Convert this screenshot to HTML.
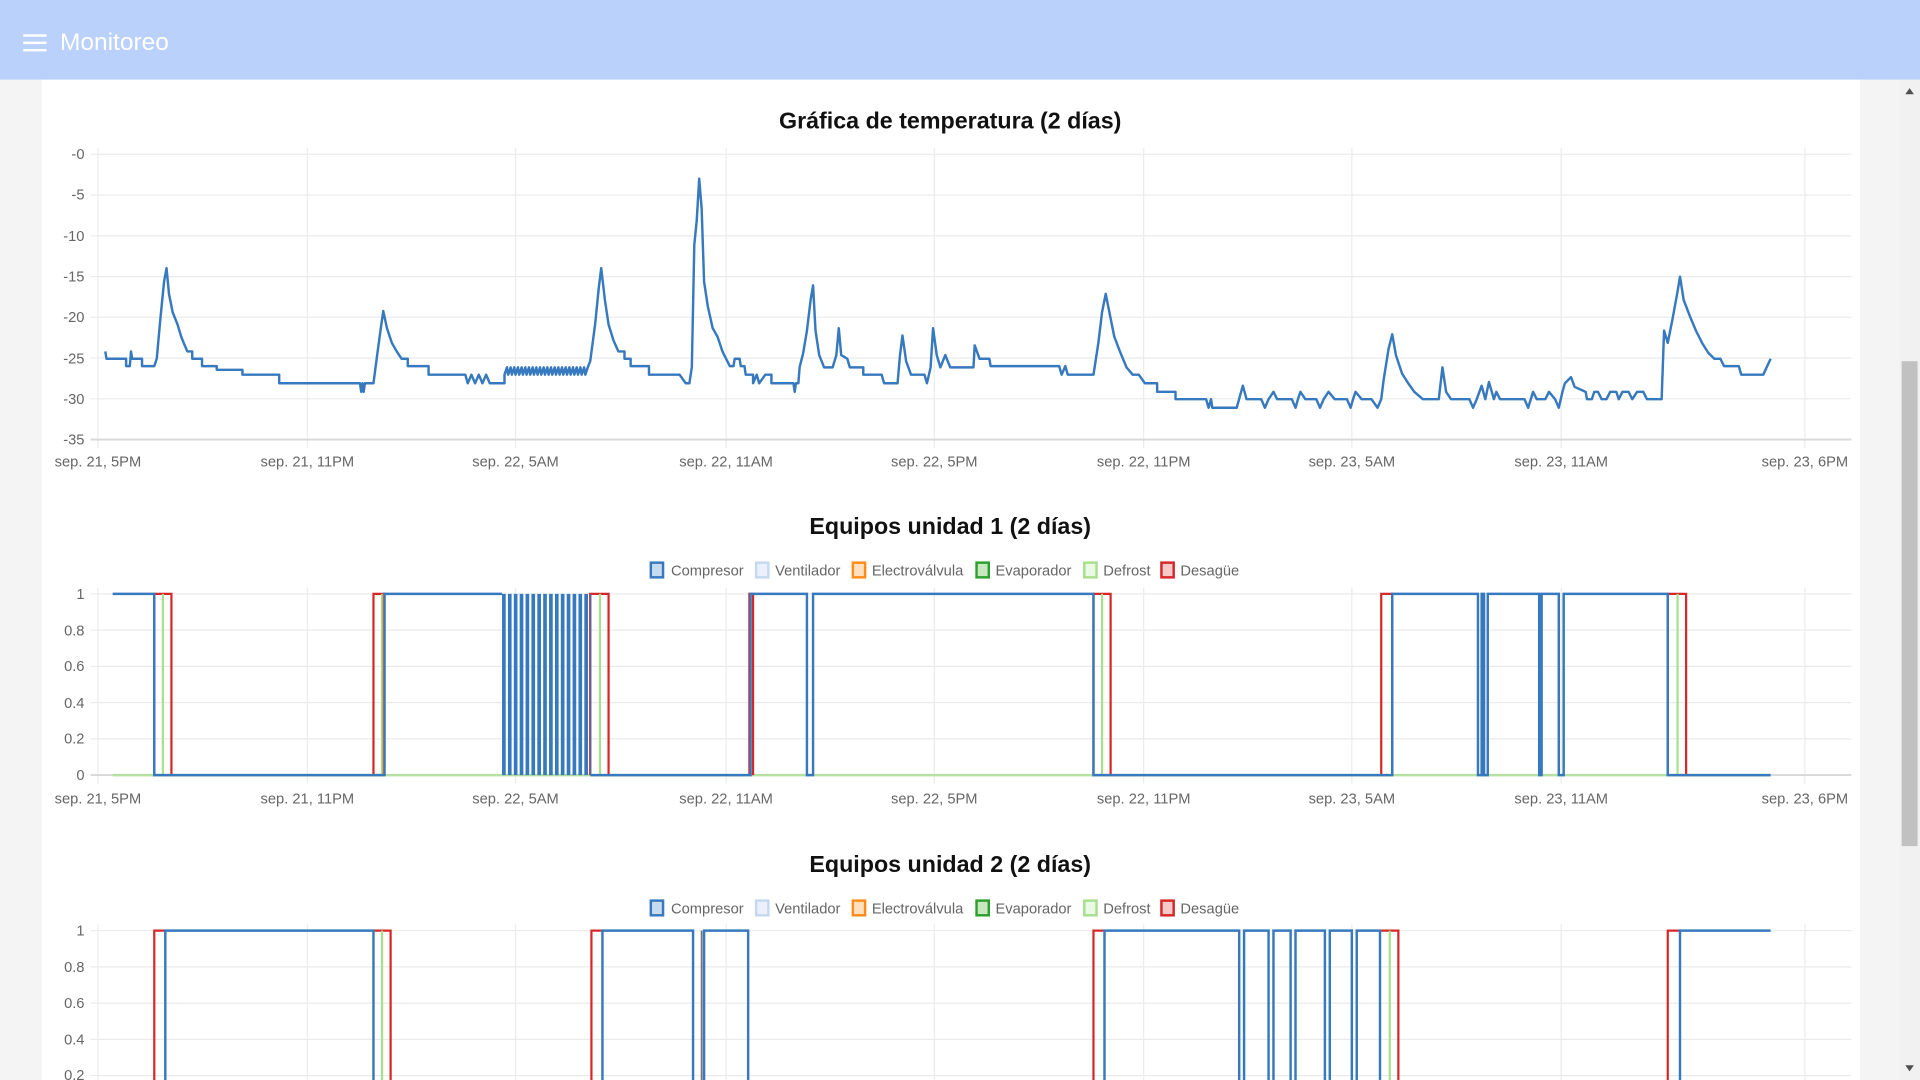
<!DOCTYPE html>
<html><head><meta charset="utf-8"><style>
html,body{margin:0;padding:0;width:1920px;height:1080px;overflow:hidden;background:#f4f4f4}
svg{display:block}
text{font-family:"Liberation Sans",sans-serif}
</style></head><body>
<svg width="1920" height="1080" viewBox="0 0 1568 882" preserveAspectRatio="none">
<rect x="0" y="0" width="1568" height="882" fill="#f4f4f4"/>
<rect x="34" y="65" width="1485" height="817" fill="#fff"/>
<rect x="0" y="0" width="1568" height="65" fill="#bad1fc"/>
<rect x="19" y="28" width="19" height="2" fill="#fff"/>
<rect x="19" y="34" width="19" height="2" fill="#fff"/>
<rect x="19" y="40" width="19" height="2" fill="#fff"/>
<text x="49" y="41" font-size="20" fill="#fff">Monitoreo</text>
<rect x="1551" y="65" width="17" height="817" fill="#f1f1f1"/>
<rect x="1553" y="295" width="13" height="396" fill="#c1c1c1"/>
<path d="M1556,77 L1563,77 L1559.5,72 Z" fill="#505050"/>
<path d="M1556,870 L1563,870 L1559.5,875 Z" fill="#505050"/>

<text x="776" y="105" font-size="19" font-weight="bold" text-anchor="middle" fill="#111">Gráfica de temperatura (2 días)</text>
<g stroke="#ebebeb" stroke-width="1">
<line x1="80" y1="121" x2="80" y2="366"/><line x1="251" y1="121" x2="251" y2="366"/><line x1="421" y1="121" x2="421" y2="366"/><line x1="593" y1="121" x2="593" y2="366"/><line x1="763" y1="121" x2="763" y2="366"/><line x1="934" y1="121" x2="934" y2="366"/><line x1="1104" y1="121" x2="1104" y2="366"/><line x1="1275" y1="121" x2="1275" y2="366"/><line x1="1474" y1="121" x2="1474" y2="366"/>
<line x1="74" y1="126" x2="1512" y2="126"/><line x1="74" y1="159.3" x2="1512" y2="159.3"/><line x1="74" y1="192.6" x2="1512" y2="192.6"/><line x1="74" y1="225.9" x2="1512" y2="225.9"/><line x1="74" y1="259.1" x2="1512" y2="259.1"/><line x1="74" y1="292.4" x2="1512" y2="292.4"/><line x1="74" y1="325.7" x2="1512" y2="325.7"/>
</g>
<line x1="74" y1="359" x2="1512" y2="359" stroke="#d8d8d8" stroke-width="1.5"/>
<g font-size="12" fill="#666" text-anchor="end">
<text x="69" y="130">-0</text><text x="69" y="163">-5</text><text x="69" y="197">-10</text><text x="69" y="230">-15</text><text x="69" y="263">-20</text><text x="69" y="297">-25</text><text x="69" y="330">-30</text><text x="69" y="363">-35</text>
</g>
<g font-size="12" fill="#666" text-anchor="middle">
<text x="80" y="381">sep. 21, 5PM</text><text x="251" y="381">sep. 21, 11PM</text><text x="421" y="381">sep. 22, 5AM</text><text x="593" y="381">sep. 22, 11AM</text><text x="763" y="381">sep. 22, 5PM</text><text x="934" y="381">sep. 22, 11PM</text><text x="1104" y="381">sep. 23, 5AM</text><text x="1275" y="381">sep. 23, 11AM</text><text x="1474" y="381">sep. 23, 6PM</text>
</g>
<polyline fill="none" stroke="#3779be" stroke-width="2" stroke-linejoin="round" points="86,287 87,293 103,293 103,299 106,299 107,287 108,293 116,293 116,299 126,299 128,293 131,260 134,230 136,219 138,240 141,255 145,265 148,275 150,280 153,287 157,287 157,293 163,293 165,293 165,299 175,299 177,299 177,302 198,302 198,306 228,306 228,313 294,313 295,320 296,313 297,320 298,313 305,313 308,290 311,268 313,254 316,268 320,280 324,287 328,293 333,293 333,299 350,299 350,306 380,306 382,313 385,306 388,313 391,306 394,313 397,306 400,313 412,313 412,306 414,300 415,306 417,300 418,306 420,300 421,306 423,300 424,306 426,300 427,306 429,300 430,306 432,300 433,306 435,300 436,306 438,300 439,306 441,300 442,306 444,300 445,306 447,300 448,306 450,300 451,306 453,300 454,306 456,300 457,306 459,300 460,306 462,300 463,306 465,300 466,306 468,300 469,306 471,300 472,306 474,300 475,306 477,300 478,306 480,300 482,295 486,265 489,235 491,219 494,245 497,265 501,278 505,287 510,287 510,293 515,293 515,299 527,299 530,299 530,306 555,306 560,313 563,313 565,300 567,200 569,180 571,146 573,170 575,230 578,250 582,268 586,275 590,287 593,293 596,299 599,299 600,293 604,293 605,299 608,299 609,306 615,306 615,313 618,306 620,313 625,306 630,306 630,313 645,313 648,313 649,320 650,313 652,313 653,300 656,288 659,270 662,245 664,233 666,270 669,290 673,300 680,300 683,290 685,268 687,290 692,293 694,300 705,300 705,306 720,306 722,313 733,313 735,290 737,274 740,295 744,306 750,306 755,306 757,313 760,300 762,268 765,290 768,300 772,290 776,300 795,300 796,282 800,293 808,293 809,299 865,299 867,306 870,299 872,306 893,306 895,293 897,280 900,255 903,240 906,255 910,275 915,288 920,300 925,306 930,306 935,313 945,313 945,320 960,320 960,326 985,326 987,333 989,326 990,333 1010,333 1013,322 1015,315 1018,326 1030,326 1033,333 1036,326 1040,320 1043,326 1055,326 1058,333 1060,326 1062,320 1066,326 1075,326 1078,333 1081,326 1085,320 1090,326 1100,326 1103,333 1105,326 1107,320 1112,326 1120,326 1125,333 1128,326 1130,310 1134,285 1137,273 1140,290 1145,305 1150,313 1155,320 1162,326 1175,326 1178,300 1181,320 1185,326 1200,326 1203,333 1206,326 1210,315 1213,326 1216,312 1220,326 1222,320 1225,326 1245,326 1248,333 1252,320 1255,326 1258,326 1262,326 1265,320 1270,326 1273,333 1276,320 1278,313 1283,308 1286,316 1295,320 1296,326 1300,326 1302,320 1305,320 1308,326 1312,326 1315,320 1320,320 1322,326 1325,320 1330,320 1333,326 1337,320 1342,320 1345,326 1357,326 1359,270 1362,280 1366,260 1370,238 1372,226 1375,245 1380,258 1385,270 1390,280 1395,288 1400,293 1405,293 1408,299 1420,299 1422,306 1440,306 1446,293"/>

<text x="776" y="436" font-size="19" font-weight="bold" text-anchor="middle" fill="#111">Equipos unidad 1 (2 días)</text>
<g font-size="12" fill="#666">
<rect x="531.5" y="459.5" width="10" height="12" fill="#c6dbef" stroke="#3779be" stroke-width="2"/><text x="548" y="470">Compresor</text>
<rect x="617.5" y="459.5" width="10" height="12" fill="#eaf1fb" stroke="#c6d8f0" stroke-width="2"/><text x="633" y="470">Ventilador</text>
<rect x="696.5" y="459.5" width="10" height="12" fill="#fde0c0" stroke="#ff8c1a" stroke-width="2"/><text x="712" y="470">Electroválvula</text>
<rect x="797.5" y="459.5" width="10" height="12" fill="#c9e8c0" stroke="#2ca02c" stroke-width="2"/><text x="813" y="470">Evaporador</text>
<rect x="885.5" y="459.5" width="10" height="12" fill="#eaf8e4" stroke="#a8df8f" stroke-width="2"/><text x="901" y="470">Defrost</text>
<rect x="948.5" y="459.5" width="10" height="12" fill="#f7c9c9" stroke="#d62728" stroke-width="2"/><text x="964" y="470">Desagüe</text>
</g>
<g stroke="#ebebeb" stroke-width="1">
<line x1="80" y1="480" x2="80" y2="640"/><line x1="251" y1="480" x2="251" y2="640"/><line x1="421" y1="480" x2="421" y2="640"/><line x1="593" y1="480" x2="593" y2="640"/><line x1="763" y1="480" x2="763" y2="640"/><line x1="934" y1="480" x2="934" y2="640"/><line x1="1104" y1="480" x2="1104" y2="640"/><line x1="1275" y1="480" x2="1275" y2="640"/><line x1="1474" y1="480" x2="1474" y2="640"/>
<line x1="74" y1="485" x2="1512" y2="485"/><line x1="74" y1="514.6" x2="1512" y2="514.6"/><line x1="74" y1="544.2" x2="1512" y2="544.2"/><line x1="74" y1="573.8" x2="1512" y2="573.8"/><line x1="74" y1="603.4" x2="1512" y2="603.4"/>
</g>
<line x1="74" y1="633" x2="1512" y2="633" stroke="#d8d8d8" stroke-width="1.5"/>
<g font-size="12" fill="#666" text-anchor="end">
<text x="69" y="489">1</text><text x="69" y="519">0.8</text><text x="69" y="548">0.6</text><text x="69" y="578">0.4</text><text x="69" y="607">0.2</text><text x="69" y="637">0</text>
</g>
<g font-size="12" fill="#666" text-anchor="middle">
<text x="80" y="656">sep. 21, 5PM</text><text x="251" y="656">sep. 21, 11PM</text><text x="421" y="656">sep. 22, 5AM</text><text x="593" y="656">sep. 22, 11AM</text><text x="763" y="656">sep. 22, 5PM</text><text x="934" y="656">sep. 22, 11PM</text><text x="1104" y="656">sep. 23, 5AM</text><text x="1275" y="656">sep. 23, 11AM</text><text x="1474" y="656">sep. 23, 6PM</text>
</g>
<line x1="92" y1="633" x2="1446" y2="633" stroke="#b5e2a0" stroke-width="2"/>
<path fill="none" stroke="#d62728" stroke-width="1.8" d="M126,633 V485 H140 V633 M305,633 V485 H314 V633 M482,633 V485 H497 V633 M612,633 V485 H615 V633 M893,633 V485 H907 V633 M1128,633 V485 H1137 V633 M1362,633 V485 H1377 V633"/>
<path fill="none" stroke="#a8df8f" stroke-width="1.8" d="M133,633 V485 M312,633 V485 M490,633 V485 M900,633 V485 M1370,633 V485"/>
<path fill="none" stroke="#ff8c1a" stroke-width="1.5" d="M313,633 V485"/>
<path fill="none" stroke="#3779be" stroke-width="2" d="M92,485 H126 V633 H314 V485 H410 M482,633 H613 V485 H659 V633 H664 V485 H893 V633 H1137 V485 H1207 V633 H1210 V485 H1212 V633 H1215 V485 H1257 V633 H1259 V485 H1273 V633 H1277 V485 H1362 V633 H1446"/>
<line x1="410" y1="559" x2="483" y2="559" stroke="#3779be" stroke-width="148" stroke-dasharray="3 1.8"/>

<text x="776" y="712" font-size="19" font-weight="bold" text-anchor="middle" fill="#111">Equipos unidad 2 (2 días)</text>
<g font-size="12" fill="#666">
<rect x="531.5" y="735.5" width="10" height="12" fill="#c6dbef" stroke="#3779be" stroke-width="2"/><text x="548" y="746">Compresor</text>
<rect x="617.5" y="735.5" width="10" height="12" fill="#eaf1fb" stroke="#c6d8f0" stroke-width="2"/><text x="633" y="746">Ventilador</text>
<rect x="696.5" y="735.5" width="10" height="12" fill="#fde0c0" stroke="#ff8c1a" stroke-width="2"/><text x="712" y="746">Electroválvula</text>
<rect x="797.5" y="735.5" width="10" height="12" fill="#c9e8c0" stroke="#2ca02c" stroke-width="2"/><text x="813" y="746">Evaporador</text>
<rect x="885.5" y="735.5" width="10" height="12" fill="#eaf8e4" stroke="#a8df8f" stroke-width="2"/><text x="901" y="746">Defrost</text>
<rect x="948.5" y="735.5" width="10" height="12" fill="#f7c9c9" stroke="#d62728" stroke-width="2"/><text x="964" y="746">Desagüe</text>
</g>
<g stroke="#ebebeb" stroke-width="1">
<line x1="80" y1="755" x2="80" y2="882"/><line x1="251" y1="755" x2="251" y2="882"/><line x1="421" y1="755" x2="421" y2="882"/><line x1="593" y1="755" x2="593" y2="882"/><line x1="763" y1="755" x2="763" y2="882"/><line x1="934" y1="755" x2="934" y2="882"/><line x1="1104" y1="755" x2="1104" y2="882"/><line x1="1275" y1="755" x2="1275" y2="882"/><line x1="1474" y1="755" x2="1474" y2="882"/>
<line x1="74" y1="760" x2="1512" y2="760"/><line x1="74" y1="789.6" x2="1512" y2="789.6"/><line x1="74" y1="819.2" x2="1512" y2="819.2"/><line x1="74" y1="848.8" x2="1512" y2="848.8"/><line x1="74" y1="878.4" x2="1512" y2="878.4"/>
</g>
<g font-size="12" fill="#666" text-anchor="end">
<text x="69" y="764">1</text><text x="69" y="794">0.8</text><text x="69" y="823">0.6</text><text x="69" y="853">0.4</text><text x="69" y="882">0.2</text>
</g>
<path fill="none" stroke="#d62728" stroke-width="1.8" d="M126,908 V760 H135 M305,760 H319 V908 M483,908 V760 H492 M893,908 V760 H902 M1127,760 H1142 V908 M1362,908 V760 H1372"/>
<path fill="none" stroke="#a8df8f" stroke-width="1.8" d="M312,908 V760 M1135,908 V760"/>
<path fill="none" stroke="#777" stroke-width="1.5" d="M573,908 V760"/>
<path fill="none" stroke="#3779be" stroke-width="2" d="M135,908 V760 H305 V908 M492,908 V760 H566 V908 M575,908 V760 H611 V908 M902,908 V760 H1012 V908 H1016 V760 H1036 V908 H1040 V760 H1054 V908 H1058 V760 H1082 V908 H1086 V760 H1104 V908 H1108 V760 H1127 V908 M1372,908 V760 H1446"/>
</svg>
</body></html>
